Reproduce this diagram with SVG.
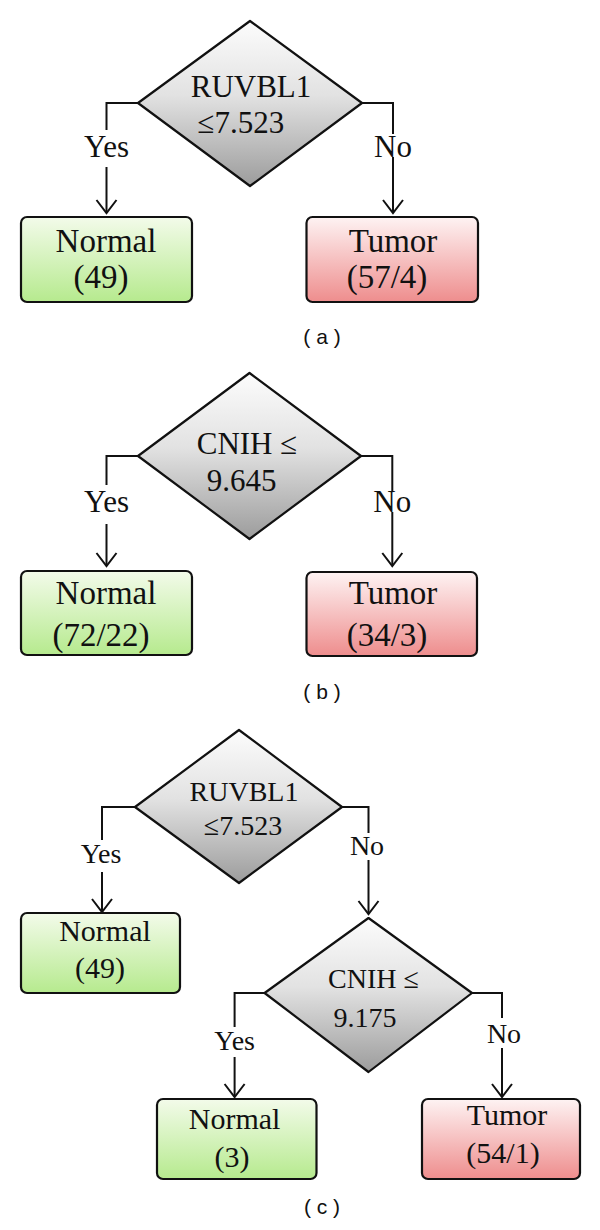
<svg xmlns="http://www.w3.org/2000/svg" width="600" height="1230" viewBox="0 0 600 1230">
<style>
.t{font-family:"Liberation Serif","Times New Roman",serif;fill:#111;text-anchor:middle}
.big{font-size:33px}
.mid{font-size:31px}
.box{font-size:30px}
.sm{font-size:28px}
.cap{font-family:"Liberation Sans",Arial,sans-serif;font-size:21px;fill:#111;text-anchor:middle}
.dia{fill:url(#gGray);stroke:#111;stroke-width:2.2;stroke-linejoin:round}
.nbox{fill:url(#gGreen);stroke:#111;stroke-width:2.2}
.tbox{fill:url(#gRed);stroke:#111;stroke-width:2.2}
.ln{fill:none;stroke:#111;stroke-width:2}
.ar{fill:none;stroke:#111;stroke-width:2;marker-end:url(#arr)}
</style>
<defs>
<linearGradient id="gGray" x1="0" y1="0" x2="0" y2="1"><stop offset="0" stop-color="#fcfcfc"/><stop offset="0.45" stop-color="#e2e2e2"/><stop offset="1" stop-color="#9c9c9c"/></linearGradient>
<linearGradient id="gGreen" x1="0" y1="0" x2="0" y2="1"><stop offset="0" stop-color="#f3fbea"/><stop offset="1" stop-color="#b6ea8e"/></linearGradient>
<linearGradient id="gRed" x1="0" y1="0" x2="0" y2="1"><stop offset="0" stop-color="#fef3f3"/><stop offset="1" stop-color="#ee8d8d"/></linearGradient>
<marker id="arr" markerUnits="userSpaceOnUse" markerWidth="30" markerHeight="30" refX="0" refY="0" orient="auto" overflow="visible"><path d="M-13,-10 L0,0 L-13,10" fill="none" stroke="#111" stroke-width="2"/></marker>
</defs>
<rect width="600" height="1230" fill="#fff"/>

<g id="connectors">
<path class="ln" d="M138,103 H106.5 V130"/>
<path class="ar" d="M106.5,167 V213"/>
<path class="ln" d="M362,103 H393 V134"/>
<path class="ar" d="M393,157 V213"/>
<path class="ln" d="M138,456 H106.5 V485"/>
<path class="ar" d="M106.5,524 V566"/>
<path class="ln" d="M361,456 H392.3 V492"/>
<path class="ar" d="M392.3,512 V566"/>
<path class="ln" d="M135,807 H102 V840"/>
<path class="ar" d="M102,872 V912"/>
<path class="ln" d="M342,807 H368.5 V833"/>
<path class="ar" d="M368.5,860 V914"/>
<path class="ln" d="M264.6,993 H234.6 V1027"/>
<path class="ar" d="M234.6,1057 V1097"/>
<path class="ln" d="M472,993 H502 V1018"/>
<path class="ar" d="M502,1048 V1097"/>
</g>

<g id="labels">
<text class="t mid" x="106.5" y="157">Yes</text>
<text class="t mid" x="393" y="157">No</text>
<text class="t mid" x="106.5" y="512">Yes</text>
<text class="t mid" x="392.3" y="512">No</text>
<text class="t sm" x="101" y="863">Yes</text>
<text class="t sm" x="367" y="855">No</text>
<text class="t sm" x="234.6" y="1050">Yes</text>
<text class="t sm" x="504" y="1043">No</text>
</g>

<g id="a_decision">
<polygon class="dia" points="250,21 362,103 250,186 138,103"/>
<text class="t mid" x="251" y="97">RUVBL1</text>
<text class="t mid" x="241" y="133">≤7.523</text>
</g>
<g id="a_normal">
<rect class="nbox" x="21" y="217" width="171" height="85" rx="6"/>
<text class="t big" x="106" y="252">Normal</text>
<text class="t big" x="101" y="288">(49)</text>
</g>
<g id="a_tumor">
<rect class="tbox" x="306.5" y="217" width="171.5" height="85" rx="6"/>
<text class="t big" x="393" y="252">Tumor</text>
<text class="t big" x="387" y="288">(57/4)</text>
</g>
<text class="cap" x="322" y="344">( a )</text>

<g id="b_decision">
<polygon class="dia" points="249.5,373 361,456 249.5,539 138,456"/>
<text class="t mid" x="247" y="454">CNIH ≤</text>
<text class="t mid" x="241.5" y="491">9.645</text>
</g>
<g id="b_normal">
<rect class="nbox" x="21" y="571" width="171" height="84" rx="6"/>
<text class="t big" x="106" y="604">Normal</text>
<text class="t big" x="101" y="646">(72/22)</text>
</g>
<g id="b_tumor">
<rect class="tbox" x="306.5" y="572" width="170.5" height="84" rx="6"/>
<text class="t big" x="393" y="604">Tumor</text>
<text class="t big" x="387" y="646">(34/3)</text>
</g>
<text class="cap" x="322" y="699">( b )</text>

<g id="c_decision1">
<polygon class="dia" points="239,730 342,807 239,883 135,807"/>
<text class="t sm" x="244" y="801">RUVBL1</text>
<text class="t sm" x="243" y="835">≤7.523</text>
</g>
<g id="c_normal1">
<rect class="nbox" x="21" y="913" width="159" height="80" rx="6"/>
<text class="t box" x="105" y="941">Normal</text>
<text class="t box" x="100" y="978">(49)</text>
</g>
<g id="c_decision2">
<polygon class="dia" points="368.5,918 472,993 368.5,1072 264.6,993"/>
<text class="t sm" x="373.5" y="988">CNIH ≤</text>
<text class="t sm" x="365" y="1027">9.175</text>
</g>
<g id="c_normal2">
<rect class="nbox" x="157" y="1099" width="159.5" height="80" rx="6"/>
<text class="t box" x="234.6" y="1129">Normal</text>
<text class="t box" x="232" y="1167">(3)</text>
</g>
<g id="c_tumor">
<rect class="tbox" x="422" y="1099" width="158" height="80" rx="6"/>
<text class="t box" x="507" y="1125">Tumor</text>
<text class="t box" x="503" y="1163">(54/1)</text>
</g>
<text class="cap" x="322" y="1214">( c )</text>
</svg>
